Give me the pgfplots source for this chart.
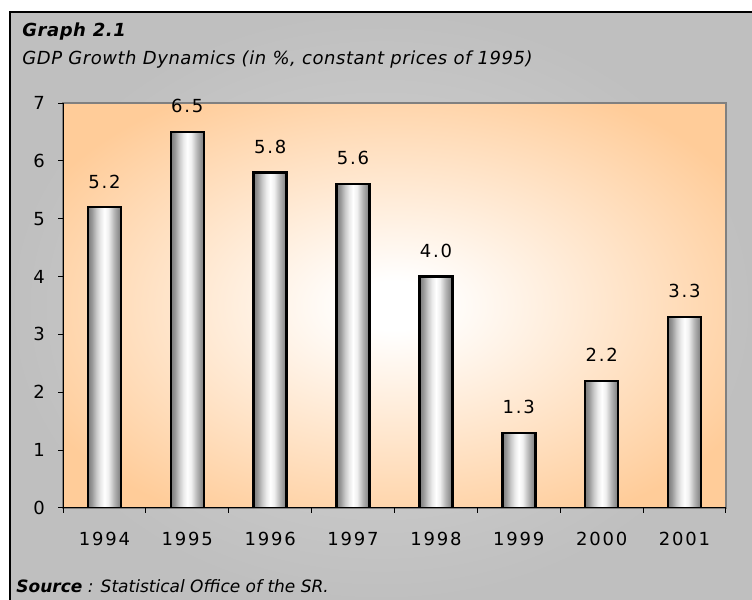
\documentclass[border=0pt]{standalone}
\usepackage{fontspec}
\setmainfont{DejaVu Sans}
\newfontfamily\spc[LetterSpace=10]{DejaVu Sans}
\newfontfamily\ttl[LetterSpace=3]{DejaVu Sans}
\usepackage{pgfplots}
\pgfplotsset{compat=1.18}
\definecolor{bgorange}{HTML}{FFCC99}
\pgfdeclareradialshading{plotbg}{\pgfpoint{0bp}{0bp}}{color(0bp)=(white); color(3bp)=(white); color(30bp)=(bgorange); color(50bp)=(bgorange)}
\pgfdeclareradialshading{outerbg}{\pgfpoint{0bp}{0bp}}{color(0bp)=(black!16); color(25bp)=(black!25); color(50bp)=(black!25)}
\pgfdeclarehorizontalshading{barshade}{100bp}{color(0bp)=(black!52); color(25bp)=(black!52); color(31bp)=(black!40); color(37.5bp)=(black!22); color(44bp)=(black!8); color(50bp)=(white); color(56bp)=(black!6); color(65bp)=(black!30); color(75bp)=(black!52); color(100bp)=(black!52)}
\pgfplotsset{mybar/.style={ybar, bar width=16.5pt, bar shift=0pt, draw=black, line width=1.2pt, shading=barshade}}
\begin{document}
\begin{tikzpicture}
\path[use as bounding box] (0,0) rectangle (376pt,300pt);
\shade[shading=outerbg] (5pt,0) rectangle (376pt,294pt);
\draw[black, line width=0.6pt] (5pt,0) -- (5pt,294pt) -- (376pt,294pt);
\begin{axis}[
  at={(31.5pt,46pt)}, anchor=south west,
  scale only axis, width=331.5pt, height=202.5pt,
  xmin=0.5, xmax=8.5, ymin=0, ymax=7,
  axis x line*=bottom, axis y line*=left,
  axis line style={black, line width=0.5pt},
  axis background/.style={shade, shading=plotbg, draw=black!50, line width=0.6pt},
  xtick={1,...,8},
  xticklabels={1994,1995,1996,1997,1998,1999,2000,2001},
  minor xtick={0.5,1.5,...,8.5},
  ytick={0,...,7},
  tick align=outside,
  major tick length=2.5pt, minor tick length=2.5pt,
  major x tick style={draw=none},
  minor x tick style={black, line width=0.5pt},
  y tick style={black, line width=0.5pt},
  /pgf/number format/assume math mode=true,
  ticklabel style={font=\spc\fontsize{9}{10}\selectfont},
  xticklabel style={yshift=-6pt},
  yticklabel style={xshift=-3pt},
  point meta=explicit symbolic,
  nodes near coords,
  nodes near coords style={font=\spc\fontsize{9}{10}\selectfont, anchor=south, yshift=5.5pt},
]
\addplot[mybar] coordinates {(1,5.2) [5.2]};
\addplot[mybar] coordinates {(2,6.5) [6.5]};
\addplot[mybar] coordinates {(3,5.8) [5.8]};
\addplot[mybar] coordinates {(4,5.6) [5.6]};
\addplot[mybar] coordinates {(5,4.0) [4.0]};
\addplot[mybar] coordinates {(6,1.3) [1.3]};
\addplot[mybar] coordinates {(7,2.2) [2.2]};
\addplot[mybar] coordinates {(8,3.3) [3.3]};
\end{axis}
\node[anchor=base west, inner sep=0] at (11pt,281.5pt) {\ttl\fontsize{9}{10}\selectfont\bfseries\itshape Graph 2.1};
\node[anchor=base west, inner sep=0] at (11pt,267.5pt) {\ttl\fontsize{9}{10}\selectfont\itshape GDP Growth Dynamics (in \%, constant prices of 1995)};
\node[anchor=base west, inner sep=0] at (8pt,3.5pt) {\fontsize{8.5}{10}\selectfont\itshape\textbf{Source} : Statistical Office of the SR.};
\end{tikzpicture}
\end{document}
